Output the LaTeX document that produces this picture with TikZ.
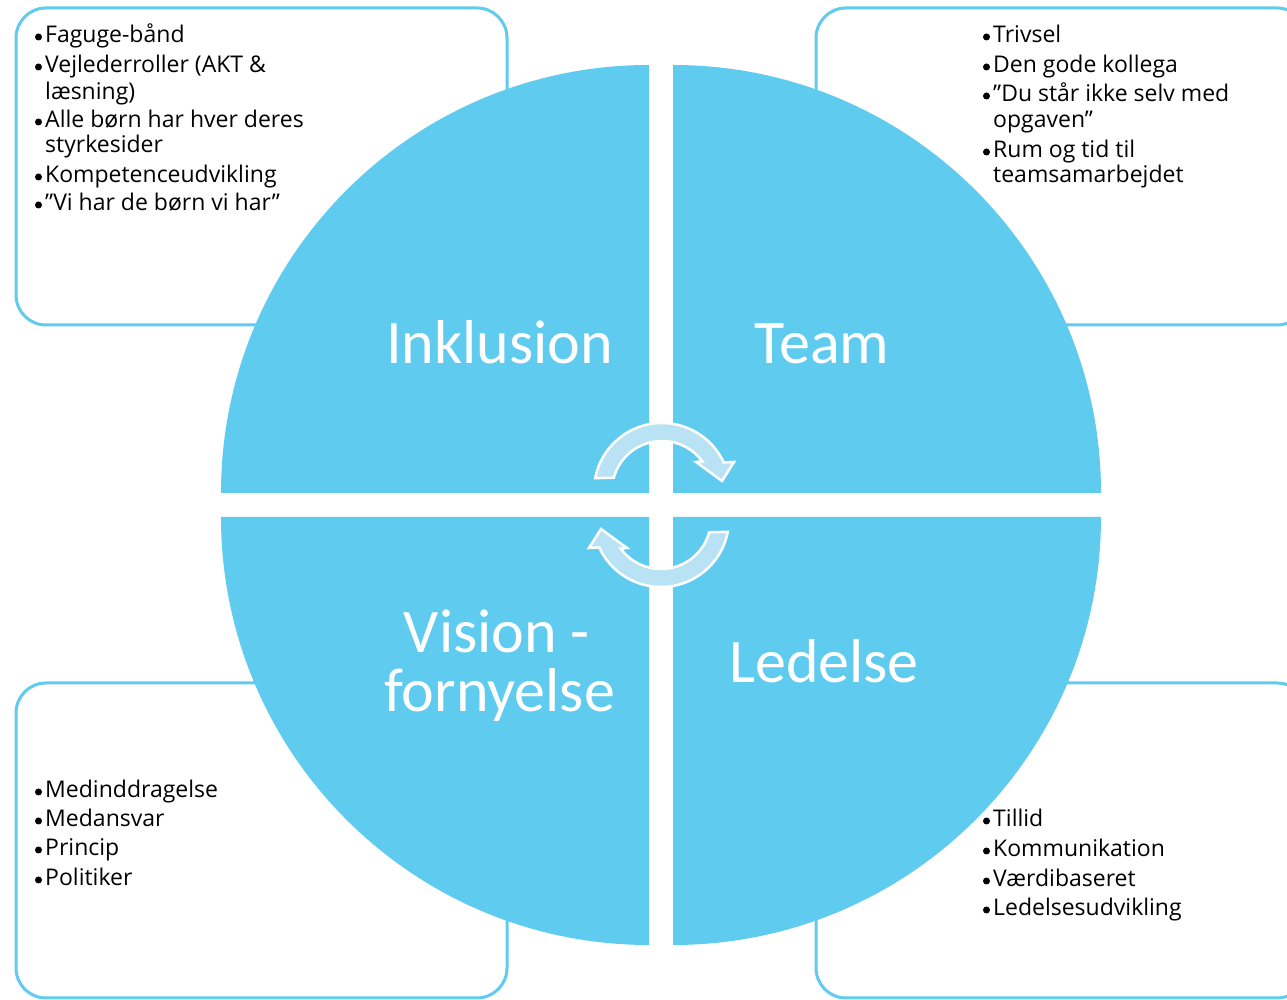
\documentclass[tikz,border=0pt]{standalone}
\usepackage{fontspec}
\setmainfont{Open Sans}
\newfontfamily\bigfont{Carlito}
\definecolor{qblue}{RGB}{95,203,239}
\definecolor{arrowfill}{RGB}{185,227,245}
\begin{document}
\begin{tikzpicture}[x=1pt,y=1pt,
  box/.style={draw=qblue, line width=3pt, rounded corners=30pt},
  quad/.style={fill=qblue, draw=none},
  item/.style={anchor=base west, inner sep=0pt, font=\fontsize{23}{27}\selectfont, text=black},
  dot/.style={fill=black},
  biglabel/.style={anchor=base, inner sep=0pt, text=white, font=\bigfont\fontsize{62}{62}\selectfont},
  cyc/.style={fill=arrowfill, draw=white, line width=2.5pt, line join=miter}]
\useasboundingbox (0,0) rectangle (1287,1000);
\clip (0,0) rectangle (1287,1000);
\fill[white] (0,0) rectangle (1287,1000);
% boxes
\draw[box] (16,675) rectangle (507,992);
\draw[box] (816,675) rectangle (1307,992);
\draw[box] (16,2) rectangle (507,317);
\draw[box] (816,2) rectangle (1307,317);
% quadrants
\fill[quad] (649,507) -- (221,507) arc[start angle=180,end angle=90,radius=428] -- cycle;
\fill[quad] (673,507) -- (673,935) arc[start angle=90,end angle=0,radius=428] -- cycle;
\fill[quad] (649,483) -- (221,483) arc[start angle=180,end angle=270,radius=428] -- cycle;
\fill[quad] (673,483) -- (673,55) arc[start angle=270,end angle=360,radius=428] -- cycle;
% circular arrows
\begin{scope}[shift={(662,509)}]
  \path[cyc] (169.1:68) arc[start angle=169.1,end angle=24.8,radius=68]
    -- (72,29) -- (60,10) -- (34,29) -- (36.3:50)
    arc[start angle=36.3,end angle=164.6,radius=50] -- cycle;
\end{scope}
\begin{scope}[rotate around={180:(661.5,495)}]
\begin{scope}[shift={(662,509)}]
  \path[cyc] (169.1:68) arc[start angle=169.1,end angle=24.8,radius=68]
    -- (72,29) -- (60,10) -- (34,29) -- (36.3:50)
    arc[start angle=36.3,end angle=164.6,radius=50] -- cycle;
\end{scope}
\end{scope}
% big labels
\node[biglabel] (inkl) at (499.5,636) {Inklusion};
\node[biglabel] (team) at (822,636) {Team};
\node[biglabel] (vis1) at (497,347) {Vision -};
\node[biglabel] (vis2) at (499.5,288) {fornyelse};
\node[biglabel] (led) at (824,317) {Ledelse};
% top-left list
\node[item] (a1) at (45,957) {Faguge-bånd};
\node[item] (a2) at (45,927) {Vejlederroller (AKT \&};
\node[item] (a2b) at (45,900) {læsning)};
\node[item] (a3) at (45,872) {Alle børn har hver deres};
\node[item] (a3b) at (45,847) {styrkesider};
\node[item] (a4) at (45,817) {Kompetenceudvikling};
\node[item] (a5) at (45,789) {”Vi har de børn vi har”};
% top-right list
\node[item] (b1) at (993,957) {Trivsel};
\node[item] (b2) at (993,927) {Den gode kollega};
\node[item] (b3) at (993,898) {”Du står ikke selv med};
\node[item] (b3b) at (993,872) {opgaven”};
\node[item] (b4) at (993,842) {Rum og tid til};
\node[item] (b4b) at (993,817) {teamsamarbejdet};
% bottom-left list
\node[item] (c1) at (45,202) {Medinddragelse};
\node[item] (c2) at (45,173) {Medansvar};
\node[item] (c3) at (45,144) {Princip};
\node[item] (c4) at (45,114) {Politiker};
% bottom-right list
\node[item] (d1) at (993,173) {Tillid};
\node[item] (d2) at (993,143) {Kommunikation};
\node[item] (d3) at (993,113) {Værdibaseret};
\node[item] (d4) at (993,84) {Ledelsesudvikling};
% bullets
\foreach \n in {a1,a2,a3,a4,a5,b1,b2,b3,b4,c1,c2,c3,c4,d1,d2,d3,d4}
  \fill[dot] ([shift={(-6.5,6)}]\n.base west) circle[radius=3.5];
\end{tikzpicture}
\end{document}
